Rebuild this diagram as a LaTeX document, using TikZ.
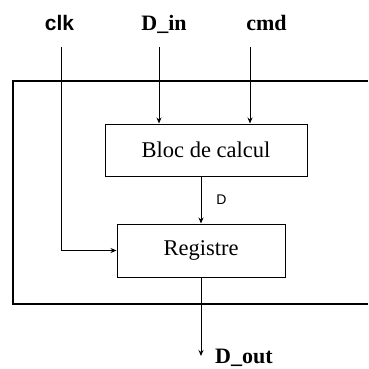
\documentclass[tikz,border=0pt]{standalone}
\usepackage{fontspec}
\setmainfont{Liberation Serif}
\newfontfamily\arialfont{Liberation Sans}
\usetikzlibrary{arrows.meta}
\begin{document}
\begin{tikzpicture}[x=1pt,y=-1pt,
  blk/.style={draw,line width=1pt,minimum width=#1,inner sep=0pt,font=\fontsize{22.5}{26}\selectfont},
  lbl/.style={anchor=base,inner sep=0pt,font=\fontsize{22}{26}\selectfont\bfseries},
  arr/.style={line width=0.9pt,-{Stealth[length=6pt,width=5pt]}},
  wire/.style={line width=0.9pt}]
\useasboundingbox (0,0) rectangle (368,369);
% outer frame (open on the right)
\draw[line width=1.2pt] (368,81) -- (13,81) -- (13,304) -- (368,304);
% blocks
\node[blk=202pt,minimum height=52pt] (bloc) at (206,150) {Bloc de calcul};
\node[blk=168pt,minimum height=53pt] (reg) at (201,250.5) {Registre};
% input labels
\node[lbl,font=\fontsize{21}{25}\selectfont\arialfont\bfseries] (clkl) at (59.5,31) {clk};
\node[lbl] (dinl) at (164,31) {D\_in};
\node[lbl] (cmdl) at (266.5,31) {cmd};
\coordinate (clk) at (61,47);
\coordinate (din) at (159,47);
\coordinate (cmd) at (250,47);
\coordinate (dout) at (201,356);
% connectors
\draw[arr] (din) -- (din |- bloc.north);
\draw[arr] (cmd) -- (cmd |- bloc.north);
\draw[arr] (clk) |- (reg.west);
\draw[arr] (reg.north |- bloc.south) -- (reg.north)
  node[pos=0.5,right=15pt,inner sep=0pt,font=\fontsize{14}{16}\selectfont\arialfont] (dl) {D};
\draw[arr] (reg.south) -- (dout);
\node[lbl,anchor=base west] (doutl) at (215,363) {D\_out};
\end{tikzpicture}
\end{document}
